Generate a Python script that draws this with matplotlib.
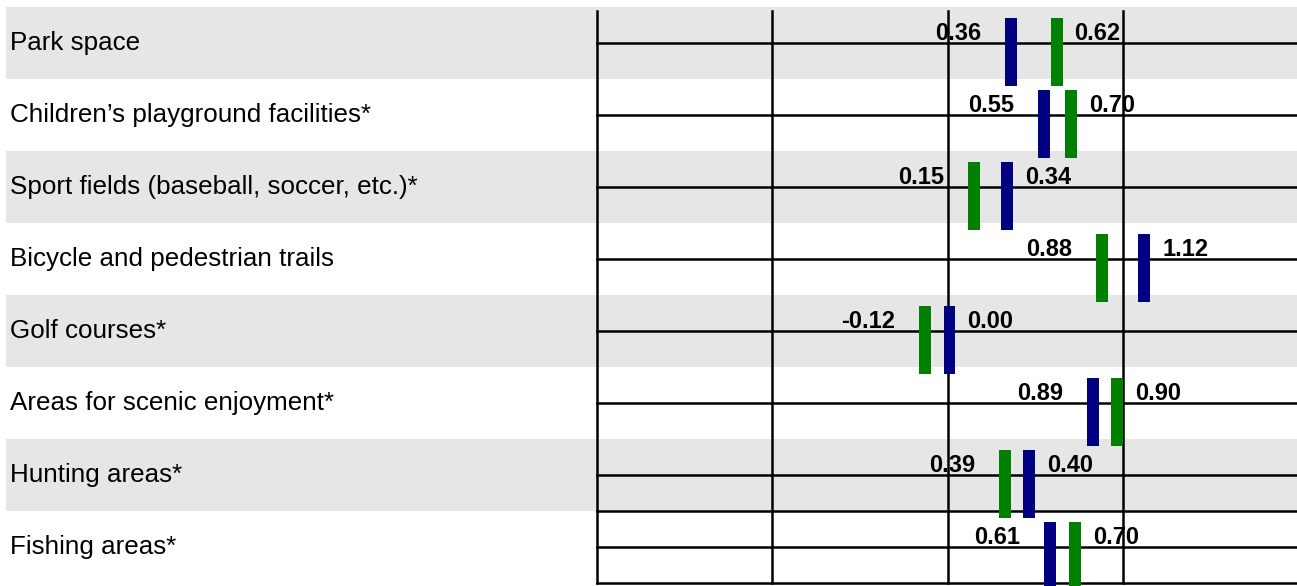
import matplotlib
matplotlib.use("Agg")
import matplotlib.pyplot as plt

#data
categories = ["Park space",
              "Children\u2019s playground facilities*",
              "Sport fields (baseball, soccer, etc.)*",
              "Bicycle and pedestrian trails",
              "Golf courses*",
              "Areas for scenic enjoyment*",
              "Hunting areas*",
              "Fishing areas*"]
blue_vals = [0.36, 0.55, 0.34, 1.12, 0.00, 0.89, 0.40, 0.61]
green_vals = [0.62, 0.70, 0.15, 0.88, -0.12, 0.90, 0.39, 0.70]
grid_x = [-2, -1, 0, 1]

BLUE = "#000080"
GREEN = "#008000"
BAND = "#e6e6e6"
XMIN, XMAX = -5.40, 1.99
MIN_GAP = 0.14   # bars closer than this are pushed apart
BAR_W = 0.068

plt.rcParams['font.family'] = ['Liberation Sans', 'DejaVu Sans']

fig = plt.figure(figsize=(12.97, 5.86), dpi=100)
ax = fig.add_axes([0, 0, 1, 1])
ax.set_xlim(XMIN, XMAX)
ax.set_ylim(7.542, -0.597)
ax.axis('off')

n = len(categories)
#grey bands behind every other row
for i in range(0, n, 2):
    ax.axhspan(i - 0.5, i + 0.5, xmin=6/1297, xmax=1, color=BAND, lw=0, zorder=0)

#grid lines
for gx in grid_x:
    ax.plot([gx, gx], [-0.444, n - 0.5], color='black', lw=1.8, zorder=1)
for gy in list(range(n)) + [n - 1.5, n - 0.5]:
    ax.plot([grid_x[0], XMAX], [gy, gy], color='black', lw=1.8, zorder=1)

for i, cat in enumerate(categories):
    ax.text(XMIN + 0.058, i + 0.1, cat, fontsize=18.7, va='baseline', ha='left')

    b, g = blue_vals[i], green_vals[i]
    pb, pg = b, g
    if abs(b - g) < MIN_GAP:
        mid = (b + g) / 2
        sgn = 1 if b >= g else -1
        pb, pg = mid + sgn * MIN_GAP / 2, mid - sgn * MIN_GAP / 2
    ax.bar(pb, 0.944, bottom=i - 0.352, width=BAR_W, color=BLUE, zorder=3, clip_on=False)
    ax.bar(pg, 0.944, bottom=i - 0.352, width=BAR_W, color=GREEN, zorder=3, clip_on=False)

    #value labels: left one right-aligned, right one left-aligned
    pts = sorted([(pb, b), (pg, g)])
    ax.annotate("%.2f" % pts[0][1], (pts[0][0], i - 0.04), xytext=(-21.5, 0),
                textcoords='offset points', ha='right', va='baseline',
                fontsize=17, fontweight='bold', zorder=4)
    ax.annotate("%.2f" % pts[1][1], (pts[1][0], i - 0.04), xytext=(13, 0),
                textcoords='offset points', ha='left', va='baseline',
                fontsize=17, fontweight='bold', zorder=4)

fig.savefig("out.png", dpi=100)
